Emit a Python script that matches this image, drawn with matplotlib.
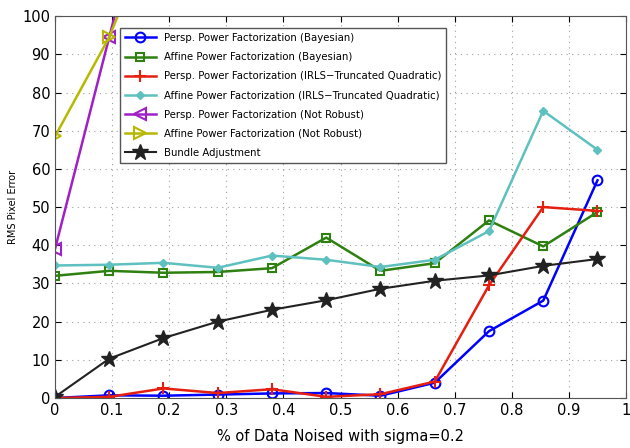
import numpy as np
import matplotlib
matplotlib.use('Agg')
import matplotlib.pyplot as plt

# fraction of noised data (x)
x = [0, 0.095, 0.19, 0.285, 0.38, 0.475, 0.57, 0.665, 0.76, 0.855, 0.95]

persp_bayes = [0.0, 0.7, 0.6, 0.9, 1.2, 1.3, 0.6, 4.0, 17.5, 25.5, 57.0]
affine_bayes = [32.0, 33.3, 32.8, 33.0, 34.0, 42.0, 33.3, 35.3, 46.5, 39.7, 48.7]
persp_irls = [0.0, 0.3, 2.5, 1.3, 2.3, 0.3, 1.0, 4.3, 29.5, 50.0, 49.0]
affine_irls = [34.7, 34.9, 35.4, 34.1, 37.3, 36.2, 34.3, 36.2, 43.7, 75.2, 65.0]
# not robust runs leave the plotted range after the second point
x_nr = [0, 0.095, 0.19]
persp_nr = [39.0, 94.5, 150.0]
affine_nr = [68.5, 94.5, 130.0]
bundle = [0.3, 10.3, 15.7, 20.0, 23.1, 25.6, 28.6, 30.7, 32.1, 34.6, 36.4]

labels = ['Persp. Power Factorization (Bayesian)',
          'Affine Power Factorization (Bayesian)',
          'Persp. Power Factorization (IRLS\u2212Truncated Quadratic)',
          'Affine Power Factorization (IRLS\u2212Truncated Quadratic)',
          'Persp. Power Factorization (Not Robust)',
          'Affine Power Factorization (Not Robust)',
          'Bundle Adjustment']

fig = plt.figure(figsize=(6.3, 4.48), dpi=100)
ax = fig.add_axes([0.0873, 0.1116, 0.9064, 0.8524])

ax.plot(x, persp_bayes, 'o-', color='#0000ff', lw=1.8, ms=7, mfc='none', mew=1.5, label=labels[0])
ax.plot(x, affine_bayes, 's-', color='#2e8010', lw=1.8, ms=6, mfc='none', mew=1.5, label=labels[1])
ax.plot(x, persp_irls, '+-', color='#e52010', lw=1.8, ms=9, mew=1.5, label=labels[2])
ax.plot(x, affine_irls, 'D-', color='#5fc0c0', lw=1.8, ms=4, label=labels[3])
ax.plot(x_nr, persp_nr, '<-', color='#a020c8', lw=1.8, ms=9, mfc='none', mew=1.5, label=labels[4])
ax.plot(x_nr, affine_nr, '>-', color='#b8b800', lw=1.8, ms=9, mfc='none', mew=1.5, label=labels[5])
ax.plot(x, bundle, '*-', color='#222222', lw=1.5, ms=12, label=labels[6])

ax.set_xlim(0, 1)
ax.set_ylim(0, 100)
ax.set_xticks(np.arange(0, 1.01, 0.1))
ax.set_xticklabels(['0', '0.1', '0.2', '0.3', '0.4', '0.5', '0.6', '0.7', '0.8', '0.9', '1'])
ax.set_yticks(np.arange(0, 101, 10))
ax.tick_params(direction='in', labelsize=10.5, length=4, top=True, right=True)
ax.grid(True, linestyle=(0, (1, 4)), color='#a0a0a0', lw=0.8)
for s in ax.spines.values():
    s.set_color('#555555')

ax.set_xlabel('% of Data Noised with sigma=0.2', fontsize=10.5, labelpad=8)
ax.set_ylabel('RMS Pixel Error', fontsize=7, labelpad=3)

leg = ax.legend(loc='upper left', bbox_to_anchor=(0.114, 0.969), borderaxespad=0,
                fontsize=7.3, fancybox=False, framealpha=1, edgecolor='#555555',
                handlelength=3.0, labelspacing=0.9, borderpad=0.5)

fig.savefig('out.png', dpi=100)
